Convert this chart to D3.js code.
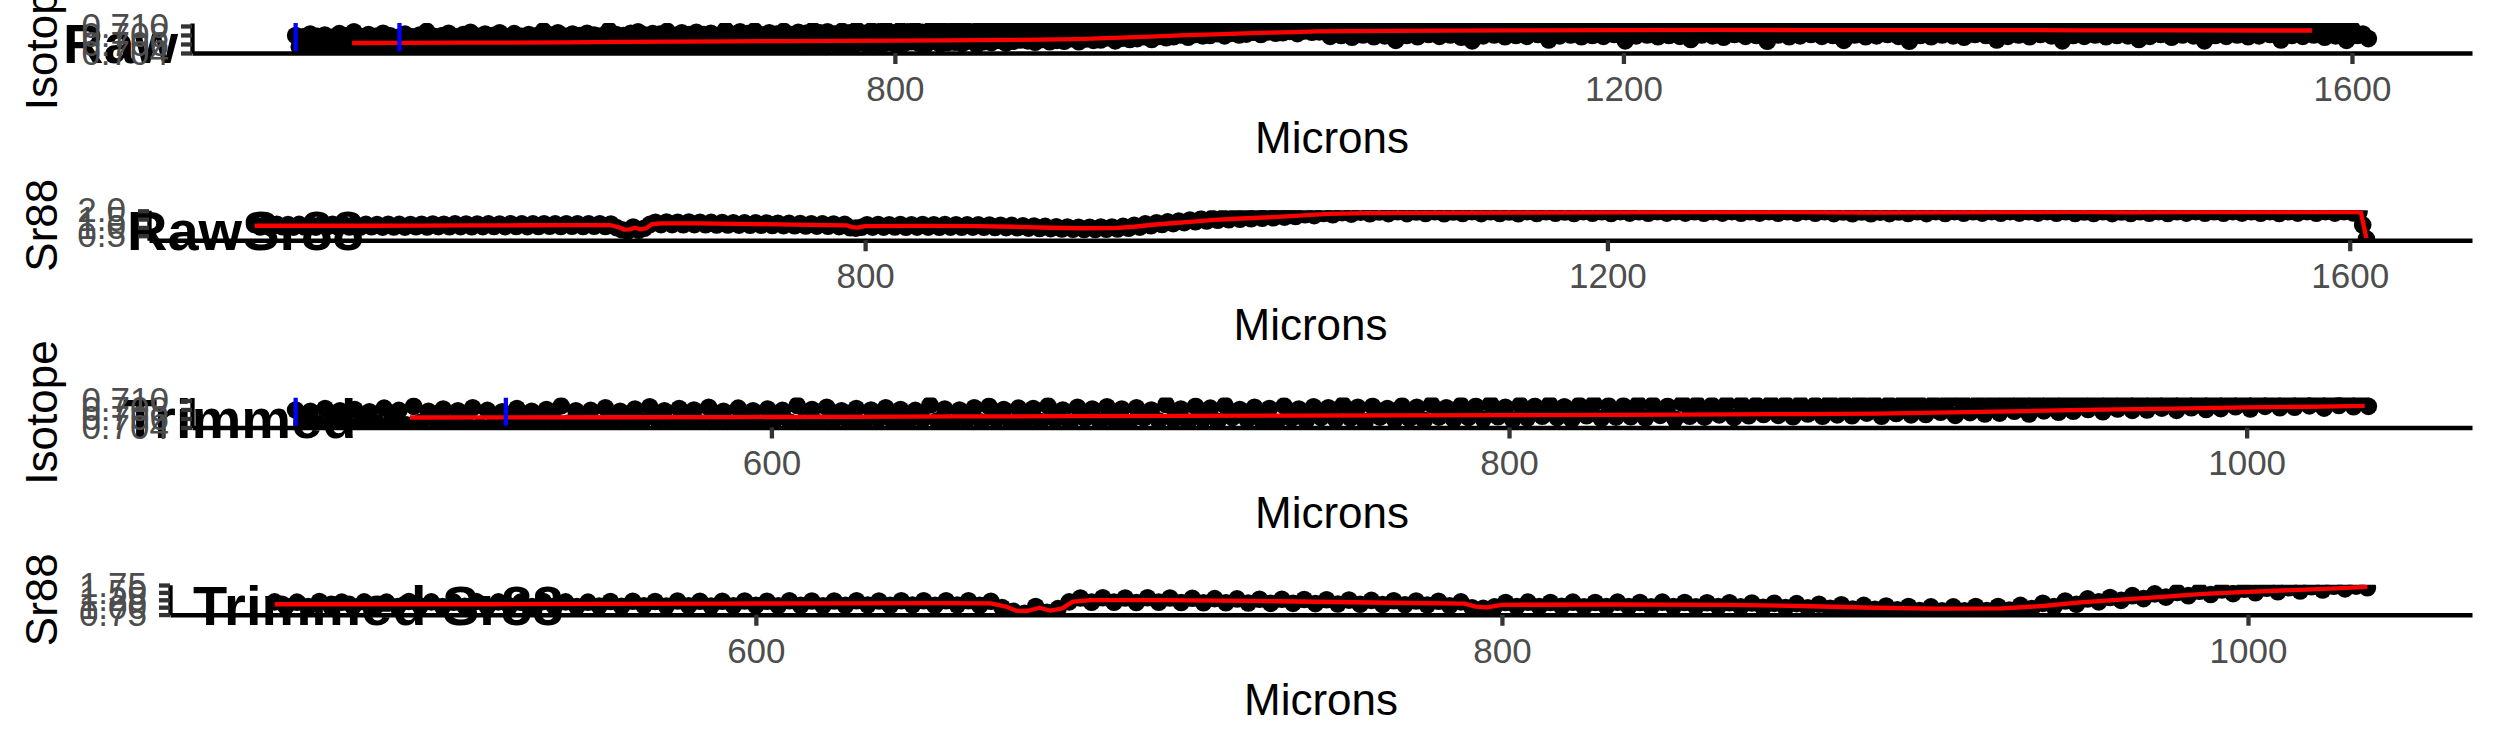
<!DOCTYPE html>
<html><head><meta charset="utf-8">
<script src="https://cdn.jsdelivr.net/npm/d3@7"></script>
<style>html,body{margin:0;padding:0;background:#fff;}svg{display:block;}</style>
</head><body>
<svg id="chart" width="2495" height="749"></svg>
<script>
// ---------------- DATA ----------------
// Isotope ratio points (microns / value)
const isoMicrons = [
471,473,475,477,479,481,483,485,487,489,
491,493,495,497,499,501,503,505,507,509,
511,513,515,517,519,521,523,525,527,529,
531,533,535,537,539,541,543,545,547,549,
551,553,555,557,559,561,563,565,567,569,
571,573,575,577,579,581,583,585,587,589,
591,593,595,597,599,601,603,605,607,609,
611,613,615,617,619,621,623,625,627,629,
631,633,635,637,639,641,643,645,647,649,
651,653,655,657,659,661,663,665,667,669,
671,673,675,677,679,681,683,685,687,689,
691,693,695,697,699,701,703,705,707,709,
711,713,715,717,719,721,723,725,727,729,
731,733,735,737,739,741,743,745,747,749,
751,753,755,757,759,761,763,765,767,769,
771,773,775,777,779,781,783,785,787,789,
791,793,795,797,799,801,803,805,807,809,
811,813,815,817,819,821,823,825,827,829,
831,833,835,837,839,841,843,845,847,849,
851,853,855,857,859,861,863,865,867,869,
871,873,875,877,879,881,883,885,887,889,
891,893,895,897,899,901,903,905,907,909,
911,913,915,917,919,921,923,925,927,929,
931,933,935,937,939,941,943,945,947,949,
951,953,955,957,959,961,963,965,967,969,
971,973,975,977,979,981,983,985,987,989,
991,993,995,997,999,1001,1003,1005,1007,1009,
1011,1013,1015,1017,1019,1021,1023,1025,1027,1029,
1031,1033,
1036,1039,1042,1045,1048,1051,1054,1057,1060,1063,
1066,1069,1072,1075,1078,1081,1084,1087,1090,1093,
1096,1099,1102,1105,1108,1111,1114,1117,1120,1123,
1126,1129,1132,1135,1138,1141,1144,1147,1150,1153,
1156,1159,1162,1165,1168,1171,1174,1177,1180,1183,
1186,1189,1192,1195,1198,1201,1204,1207,1210,1213,
1216,1219,1222,1225,1228,1231,1234,1237,1240,1243,
1246,1249,1252,1255,1258,1261,1264,1267,1270,1273,
1276,1279,1282,1285,1288,1291,1294,1297,1300,1303,
1306,1309,1312,1315,1318,1321,1324,1327,1330,1333,
1336,1339,1342,1345,1348,1351,1354,1357,1360,1363,
1366,1369,1372,1375,1378,1381,1384,1387,1390,1393,
1396,1399,1402,1405,1408,1411,1414,1417,1420,1423,
1426,1429,1432,1435,1438,1441,1444,1447,1450,1453,
1456,1459,1462,1465,1468,1471,1474,1477,1480,1483,
1486,1489,1492,1495,1498,1501,1504,1507,1510,1513,
1516,1519,1522,1525,1528,1531,1534,1537,1540,1543,
1546,1549,1552,1555,1558,1561,1564,1567,1570,1573,
1576,1579,1582,1585,1588,1591,1594,1597,1600,1603,
1606,1609
];
const isoValues = [
0.7079,0.7054,0.7076,0.7049,0.7082,0.7056,0.7077,0.7047,0.7080,0.7053,
0.7075,0.7050,0.7083,0.7055,0.7078,0.7046,0.7087,0.7052,0.7076,0.7057,
0.7081,0.7049,0.7077,0.7054,0.7084,0.7043,0.7078,0.7056,0.7075,0.7051,
0.7082,0.7053,0.7076,0.7048,0.7080,0.7057,0.7088,0.7050,0.7077,0.7055,
0.7078,0.7048,0.7084,0.7056,0.7076,0.7051,0.7081,0.7053,0.7086,0.7058,
0.7077,0.7046,0.7082,0.7054,0.7079,0.7050,0.7085,0.7057,0.7076,0.7049,
0.7083,0.7055,0.7077,0.7048,0.7081,0.7058,0.7078,0.7052,0.7089,0.7056,
0.7080,0.7050,0.7085,0.7057,0.7077,0.7053,0.7082,0.7047,0.7079,0.7059,
0.7084,0.7054,0.7080,0.7051,0.7078,0.7058,0.7090,0.7055,0.7081,0.7049,
0.7079,0.7057,0.7084,0.7052,0.7087,0.7059,0.7080,0.7050,0.7083,0.7056,
0.7082,0.7053,0.7088,0.7058,0.7079,0.7051,0.7085,0.7060,0.7081,0.7054,
0.7086,0.7056,0.7081,0.7050,0.7084,0.7061,0.7079,0.7055,0.7091,0.7058,
0.7081,0.7052,0.7087,0.7059,0.7083,0.7054,0.7089,0.7062,0.7080,0.7057,
0.7085,0.7056,0.7082,0.7051,0.7088,0.7060,0.7081,0.7055,0.7086,0.7062,
0.7084,0.7058,0.7090,0.7061,0.7085,0.7053,0.7087,0.7063,0.7082,0.7057,
0.7088,0.7060,0.7085,0.7056,0.7091,0.7063,0.7084,0.7058,0.7089,0.7062,
0.7087,0.7059,0.7092,0.7064,0.7085,0.7057,0.7090,0.7061,0.7087,0.7065,
0.7091,0.7062,0.7086,0.7058,0.7089,0.7066,0.7093,0.7060,0.7088,0.7063,
0.7088,0.7064,0.7092,0.7061,0.7090,0.7067,0.7087,0.7059,0.7094,0.7065,
0.7091,0.7063,0.7089,0.7068,0.7093,0.7062,0.7092,0.7066,0.7090,0.7069,
0.7094,0.7067,0.7091,0.7064,0.7093,0.7070,0.7090,0.7065,0.7096,0.7068,
0.7092,0.7066,0.7097,0.7072,0.7094,0.7065,0.7091,0.7071,0.7098,0.7068,
0.7095,0.7069,0.7093,0.7074,0.7099,0.7067,0.7096,0.7073,0.7094,0.7070,
0.7098,0.7072,0.7096,0.7076,0.7101,0.7070,0.7097,0.7077,0.7100,0.7074,
0.7098,0.7076,0.7095,0.7080,0.7101,0.7075,0.7097,0.7081,0.7100,0.7078,
0.7101,0.7079,0.7098,0.7083,0.7103,0.7078,0.7100,0.7084,0.7102,0.7080,
0.7103,0.7082,0.7101,0.7086,0.71036,0.7081,0.7103,0.7087,0.7103,0.7084,
0.7103,0.7085,0.7103,0.7088,0.7103,0.7083,0.7103,0.7089,0.7103,0.7086,
0.7103,0.7087,
0.7096,0.7077,0.7099,0.7079,0.7094,0.7075,0.7101,0.7080,0.7097,0.7076,
0.7093,0.7078,0.7100,0.7068,0.7096,0.7079,0.7098,0.7076,0.7095,0.7081,
0.7101,0.7077,0.7094,0.7080,0.7099,0.7075,0.7097,0.7067,0.7095,0.7078,
0.7098,0.7080,0.7102,0.7076,0.7096,0.7079,0.7093,0.7077,0.7100,0.7081,
0.7095,0.7069,0.7099,0.7078,0.7097,0.7080,0.7101,0.7076,0.7094,0.7079,
0.7098,0.7077,0.7096,0.7081,0.7100,0.7067,0.7095,0.7078,0.7099,0.7080,
0.7093,0.7076,0.7101,0.7079,0.7097,0.7077,0.7094,0.7070,0.7099,0.7080,
0.7096,0.7078,0.7102,0.7075,0.7095,0.7081,0.7098,0.7077,0.7094,0.7079,
0.7100,0.7066,0.7097,0.7080,0.7093,0.7076,0.7101,0.7078,0.7096,0.7081,
0.7098,0.7077,0.7095,0.7079,0.7099,0.7068,0.7094,0.7080,0.7100,0.7076,
0.7096,0.7078,0.7093,0.7081,0.7101,0.7077,0.7097,0.7066,0.7095,0.7079,
0.7099,0.7076,0.7094,0.7080,0.7100,0.7078,0.7096,0.7075,0.7098,0.7081,
0.7093,0.7079,0.7101,0.7069,0.7097,0.7077,0.7095,0.7080,0.7099,0.7076,
0.7096,0.7081,0.7100,0.7078,0.7094,0.7067,0.7098,0.7079,0.7093,0.7077,
0.7101,0.7080,0.7095,0.7076,0.7099,0.7079,0.7097,0.7078,0.7094,0.7070,
0.7098,0.7077,0.7096,0.7081,0.7100,0.7075,0.7093,0.7080,0.7099,0.7078,
0.7095,0.7067,0.7097,0.7079,0.7101,0.7077,0.7094,0.7080,0.7098,0.7076,
0.7096,0.7078,0.7100,0.7081,0.7093,0.7069,0.7099,0.7079,0.7095,0.7077,
0.7097,0.7080,0.7094,0.7075,0.7100,0.7078,0.7096,0.7068,0.7093,0.7079,
0.7082,0.7072
];
// Sr88 points (microns / value)
const srMicrons = [
471,474,477,480,483,486,489,492,495,498,
501,504,507,510,513,516,519,522,525,528,
531,534,537,540,543,546,549,552,555,558,
561,564,567,570,573,576,579,582,585,588,
591,594,597,600,603,606,609,612,615,618,
621,624,627,630,633,636,639,642,645,648,
651,654,657,660,663,666,669,672,675,678,
681,684,687,690,693,696,699,702,705,708,
711,714,717,720,723,726,729,732,735,738,
741,744,747,750,753,756,759,762,765,768,
771,774,777,780,783,786,789,792,795,798,
801,804,807,810,813,816,819,822,825,828,
831,834,837,840,843,846,849,852,855,858,
861,864,867,870,873,876,879,882,885,888,
891,894,897,900,903,906,909,912,915,918,
921,924,927,930,933,936,939,942,945,948,
951,954,957,960,963,966,969,972,975,978,
981,984,987,990,993,996,999,1002,1005,1008,
1011,1014,1017,1020,1023,1026,1029,1032,
1037,1042,1047,1052,1057,1062,1067,1072,1077,1082,
1087,1092,1097,1102,1107,1112,1117,1122,1127,1132,
1137,1142,1147,1152,1157,1162,1167,1172,1177,1182,
1187,1192,1197,1202,1207,1212,1217,1222,1227,1232,
1237,1242,1247,1252,1257,1262,1267,1272,1277,1282,
1287,1292,1297,1302,1307,1312,1317,1322,1327,1332,
1337,1342,1347,1352,1357,1362,1367,1372,1377,1382,
1387,1392,1397,1402,1407,1412,1417,1422,1427,1432,
1437,1442,1447,1452,1457,1462,1467,1472,1477,1482,
1487,1492,1497,1502,1507,1512,1517,1522,1527,1532,
1537,1542,1547,1552,1557,1562,1567,1572,1577,1582,
1587,1592,1597,1602,1605,1607,1609
];
const srValues = [
1.18,1.03,1.17,1.02,1.19,1.04,1.17,1.02,1.18,1.03,
1.17,1.02,1.19,1.04,1.18,1.02,1.17,1.03,1.19,1.02,
1.18,1.04,1.17,1.02,1.19,1.03,1.18,1.02,1.17,1.04,
1.19,1.03,1.20,1.05,1.19,1.04,1.21,1.05,1.20,1.04,
1.20,1.05,1.21,1.06,1.20,1.05,1.22,1.06,1.21,1.05,
1.21,1.06,1.22,1.07,1.21,1.06,1.22,1.07,1.22,1.06,
1.22,1.07,1.22,1.06,1.20,0.99,0.86,0.79,1.02,0.83,
0.95,1.18,1.31,1.17,1.32,1.17,1.31,1.16,1.32,1.17,
1.31,1.16,1.30,1.15,1.29,1.15,1.28,1.14,1.27,1.13,
1.27,1.13,1.26,1.12,1.25,1.11,1.24,1.10,1.23,1.09,
1.22,1.08,1.21,1.07,1.20,1.05,1.18,0.98,0.96,1.01,
1.16,1.02,1.17,1.02,1.16,1.03,1.17,1.01,1.16,1.02,
1.17,1.02,1.16,1.01,1.17,1.02,1.16,1.01,1.15,1.02,
1.15,1.01,1.14,1.00,1.13,0.99,1.12,0.98,1.10,0.96,
1.08,0.94,1.06,0.93,1.04,0.91,1.02,0.89,1.01,0.88,
1.01,0.88,1.02,0.89,1.02,0.90,1.06,0.95,1.13,1.02,
1.21,1.10,1.28,1.18,1.33,1.23,1.39,1.29,1.45,1.34,
1.50,1.39,1.54,1.43,1.58,1.46,1.61,1.49,1.64,1.52,
1.66,1.55,1.69,1.58,1.71,1.62,1.713,1.66,
1.76,1.71,1.84,1.76,1.89,1.80,1.92,1.82,1.93,1.83,
1.94,1.83,1.93,1.84,1.94,1.82,1.93,1.84,1.95,1.83,
1.94,1.84,1.93,1.82,1.95,1.84,1.94,1.85,1.93,1.84,
1.95,1.85,1.94,1.84,1.95,1.86,1.94,1.85,1.95,1.86,
1.95,1.86,1.94,1.85,1.95,1.86,1.95,1.85,1.94,1.86,
1.95,1.85,1.94,1.86,1.95,1.85,1.94,1.83,1.93,1.82,
1.93,1.82,1.92,1.83,1.93,1.84,1.94,1.83,1.95,1.84,
1.95,1.85,1.94,1.86,1.95,1.85,1.95,1.86,1.94,1.86,
1.95,1.85,1.94,1.84,1.93,1.84,1.94,1.83,1.93,1.84,
1.94,1.85,1.95,1.84,1.94,1.86,1.95,1.85,1.94,1.85,
1.95,1.86,1.94,1.85,1.95,1.84,1.94,1.86,1.95,1.85,
1.95,1.86,1.95,1.87,1.93,1.15,0.31
];
// smoothed (red) series
const isoSmoothMicrons = [502,530,560,590,620,650,680,710,740,770,800,830,860,880,900,920,940,960,980,1000,1020,1032,1050,1075,1100,1150,1200,1250,1300,1350,1400,1450,1500,1550,1578];
const isoSmooth = [0.70622,0.70624,0.70628,0.70632,0.70638,0.70645,0.70652,0.70658,0.70664,0.70670,0.70676,0.70682,0.70690,0.70698,0.70710,0.70735,0.70765,0.70795,0.70820,0.70845,0.70865,0.70878,0.70886,0.70893,0.70898,0.70904,0.70910,0.70914,0.70910,0.70906,0.70908,0.70904,0.70902,0.70900,0.70900];
const srSmoothMicrons = [471,500,530,560,590,620,650,663,667,670,673,676,679,682,685,690,710,740,770,790,793,796,800,830,860,880,900,916,934,945,955,965,977,988,1000,1012,1022,1032,1040,1050,1070,1100,1150,1200,1250,1300,1340,1380,1420,1450,1480,1520,1560,1600,1606,1609];
const srSmooth = [1.10,1.10,1.10,1.11,1.12,1.13,1.14,1.13,1.02,0.87,0.88,0.98,0.88,0.95,1.19,1.24,1.24,1.20,1.15,1.12,1.02,0.99,1.08,1.09,1.08,1.04,0.98,0.95,0.96,1.04,1.16,1.25,1.35,1.45,1.52,1.58,1.63,1.69,1.75,1.82,1.86,1.88,1.89,1.91,1.92,1.92,1.89,1.90,1.92,1.93,1.91,1.92,1.92,1.93,1.91,0.35];
const markerMicrons = [471, 528];
const trimEnd = 1033;
const panelTitles = ["Raw", "RawSr88", "Trimmed", "Trimmed Sr88"];
const yTitles = ["Isotope", "Sr88", "Isotope", "Sr88"];
const xTitle = "Microns";
const isoTicks = [0.704, 0.706, 0.708, 0.710];
const rawSrTicks = [0.5, 1.0, 1.5, 2.0];
const trimSrTicks = [0.75, 1.00, 1.25, 1.50, 1.75];
const rawXTicks = [800, 1200, 1600];
const trimXTicks = [600, 800, 1000];

// ---------------- BUILD ----------------
function zipPts(ms, vs) { const n = Math.min(ms.length, vs.length); return d3.range(n).map(i => ({m: ms[i], v: vs[i]})); }
const isoPts = zipPts(isoMicrons, isoValues);
const srPts = zipPts(srMicrons, srValues);
const isoLine = zipPts(isoSmoothMicrons, isoSmooth);
const srLine = zipPts(srSmoothMicrons, srSmooth);
const trim = a => a.filter(d => d.m <= trimEnd);

const panels = [
  {pts: isoPts, line: isoLine, yt: isoTicks, fmt: d3.format(".3f"), xt: rawXTicks, vl: markerMicrons},
  {pts: srPts, line: srLine, yt: rawSrTicks, fmt: d3.format(".1f"), xt: rawXTicks, vl: []},
  {pts: trim(isoPts), line: trim(isoLine), yt: isoTicks, fmt: d3.format(".3f"), xt: trimXTicks, vl: markerMicrons},
  {pts: trim(srPts), line: trim(srLine), yt: trimSrTicks, fmt: d3.format(".2f"), xt: trimXTicks, vl: []}
];

// layout
const rowH = 749 / 4;
const L = {top: 23, bottom: 53, right: 2472, lefts: [192, 149, 192, 170], titleX: [63, 127, 123, 193],
  titleBase: 63, xTitleBase: 153, yTitleX: 57, font: "'Liberation Sans', Arial, Helvetica, sans-serif"};

const svg = d3.select("#chart").attr("font-family", L.font);
svg.append("rect").attr("width", 2495).attr("height", 749).attr("fill", "#fff");

function expand(ext) { const d = ext[1] - ext[0]; return [ext[0] - 0.05 * d, ext[1] + 0.05 * d]; }

panels.forEach((p, i) => {
  const g = svg.append("g").attr("transform", `translate(0,${i * rowH})`);
  const left = L.lefts[i];
  const x = d3.scaleLinear().domain(expand(d3.extent(p.pts, d => d.m))).range([left, L.right]);
  const yvals = p.pts.map(d => d.v).concat(p.line.map(d => d.v));
  const y = d3.scaleLinear().domain(expand(d3.extent(yvals))).range([L.bottom, L.top]);

  g.append("text").attr("x", L.titleX[i]).attr("y", L.titleBase)
    .attr("font-size", 56).attr("font-weight", "bold").attr("fill", "#000").text(panelTitles[i]);

  const cid = "clip" + i;
  g.append("clipPath").attr("id", cid).append("rect")
    .attr("x", left).attr("y", L.top).attr("width", L.right - left).attr("height", L.bottom - L.top);
  const pg = g.append("g").attr("clip-path", `url(#${cid})`);

  pg.selectAll("circle").data(p.pts).join("circle")
    .attr("cx", d => x(d.m)).attr("cy", d => y(d.v)).attr("r", 8.8).attr("fill", "#000");

  pg.append("path").datum(p.line)
    .attr("d", d3.line().x(d => x(d.m)).y(d => y(d.v)))
    .attr("fill", "none").attr("stroke", "#FF0000").attr("stroke-width", 4.3).attr("stroke-linejoin", "round");

  pg.selectAll("line.vl").data(p.vl).join("line").attr("class", "vl")
    .attr("x1", d => x(d)).attr("x2", d => x(d)).attr("y1", L.top).attr("y2", L.bottom)
    .attr("stroke", "#0000FF").attr("stroke-width", 4.3);

  const xa = g.append("g").attr("transform", `translate(0,${L.bottom})`)
    .call(d3.axisBottom(x).tickValues(p.xt).tickFormat(d3.format("d")).tickSize(11).tickSizeOuter(0).tickPadding(12));
  const ya = g.append("g").attr("transform", `translate(${left},0)`)
    .call(d3.axisLeft(y).tickValues(p.yt).tickFormat(p.fmt).tickSize(11).tickSizeOuter(0).tickPadding(12));
  [xa, ya].forEach(a => {
    a.attr("font-family", L.font).attr("font-size", 35);
    a.select(".domain").attr("stroke", "#000").attr("stroke-width", 4.3);
    a.selectAll(".tick line").attr("stroke", "#333333").attr("stroke-width", 4.3);
    a.selectAll(".tick text").attr("fill", "#4D4D4D");
  });

  g.append("text").attr("x", (left + L.right) / 2).attr("y", L.xTitleBase)
    .attr("text-anchor", "middle").attr("font-size", 44).attr("fill", "#000").text(xTitle);
  g.append("text").attr("transform", `translate(${L.yTitleX},${(L.top + L.bottom) / 2}) rotate(-90)`)
    .attr("text-anchor", "middle").attr("font-size", 44).attr("fill", "#000").text(yTitles[i]);
});
</script>
</body></html>
